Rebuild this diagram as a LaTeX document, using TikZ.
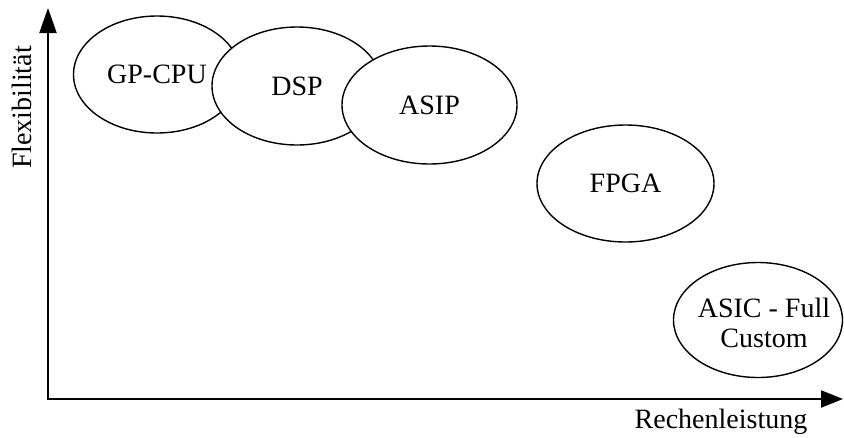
\documentclass[tikz,border=0pt]{standalone}
\usepackage{fontspec}
\setmainfont{Liberation Serif}
\usetikzlibrary{shapes.geometric,arrows.meta}
\begin{document}
\begin{tikzpicture}[x=1pt,y=-1pt,
  blob/.style={ellipse,draw,fill=white,line width=1.4pt,inner sep=0pt,
    align=center,font=\fontsize{28}{30}\selectfont},
  axis/.style={line width=2pt,line join=miter,
    {Triangle[length=25pt,width=17pt]}-{Triangle[length=22pt,width=17pt]}},
  axlabel/.style={font=\fontsize{28}{31}\selectfont,inner sep=0pt}]
\useasboundingbox (0,0) rectangle (844,437);

% axes
\coordinate (O) at (48,399);
\coordinate (ytip) at (48,8);
\coordinate (xtip) at (843,399);
\draw[axis] (ytip) -- (O) -- (xtip);

\node[axlabel,rotate=90] (ylab) at (22,107.5) {Flexibilität};
\node[axlabel,anchor=base] (xlab) at (721,428) {Rechenleistung};

% architecture classes, later ones lie on top
\node[blob,minimum width=167pt,minimum height=117pt] (gpcpu) at (157,74.5) {GP-CPU};
\node[blob,minimum width=170pt,minimum height=118pt] (dsp) at (297,86) {DSP};
\node[blob,minimum width=175pt,minimum height=118pt] (asip) at (429.5,105) {ASIP};
\node[blob,minimum width=177pt,minimum height=117pt] (fpga) at (625.5,183.5) {FPGA};
\node[blob,minimum width=169pt,minimum height=115pt] (asic) at (758,320) {};
\node[blob,draw=none,fill=none] (asictext) at (764,323) {ASIC - Full\\Custom};
\end{tikzpicture}
\end{document}
